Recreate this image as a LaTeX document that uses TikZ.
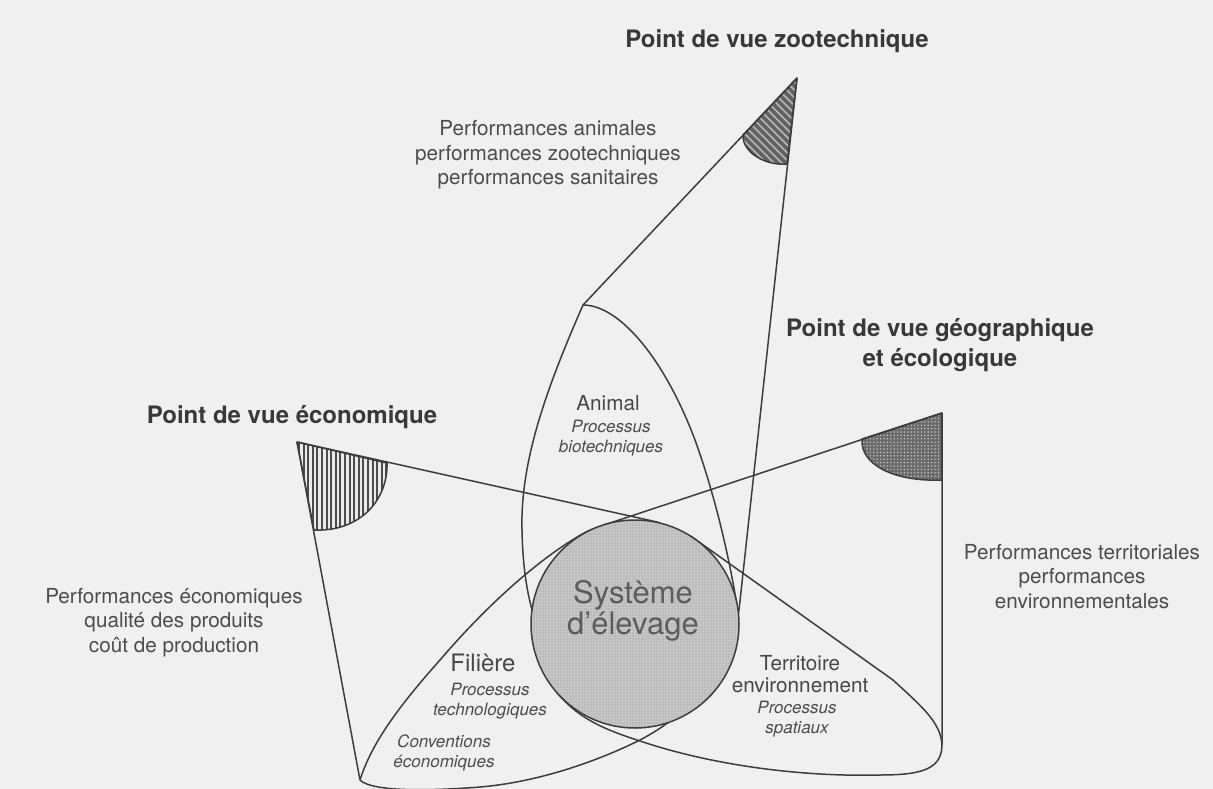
\documentclass[tikz,border=0pt]{standalone}
\usepackage{fontspec}
\setmainfont{TeX Gyre Heros}
\usetikzlibrary{patterns.meta}

\begin{document}
\begin{tikzpicture}[
    x=1pt, y=-1pt,
    line join=round,
    rim/.style    ={draw=black!76, line width=1.5pt},
    zoosec/.style ={rim, preaction={fill=black!62},
                    pattern={Lines[angle=-45,distance=5.5pt,line width=1.6pt]},
                    pattern color=black!28},
    ecosec/.style ={rim, preaction={fill=black!8},
                    pattern={Lines[angle=90,distance=4.6pt,line width=1.9pt]},
                    pattern color=black!70},
    geosec/.style ={rim, preaction={fill=black!58},
                    pattern={Dots[distance=3.4pt,radius=0.8pt]},
                    pattern color=black!22},
    sys/.style    ={circle, rim, minimum size=208pt, inner sep=0pt,
                    preaction={fill=black!22},
                    pattern={Dots[distance=3pt,radius=0.6pt]},
                    pattern color=black!45},
    title/.style  ={font=\fontsize{24}{30}\selectfont\bfseries, text=black!78,
                    inner sep=0pt, align=center},
    perf/.style   ={font=\fontsize{20.7}{24.5}\selectfont, text=black!70,
                    inner sep=0pt, align=center},
    dom/.style    ={font=\fontsize{20.7}{22}\selectfont, text=black!72,
                    inner sep=0pt, align=center},
    proc/.style   ={font=\fontsize{17}{19.5}\selectfont\itshape, text=black!70,
                    inner sep=0pt, align=center},
    systxt/.style ={font=\fontsize{31}{31}\selectfont, text=black!64,
                    inner sep=0pt, align=center},
]
\useasboundingbox (0,0) rectangle (1213,789);
\fill[black!6] (0,0) rectangle (1213,789);

\coordinate (zt)   at (797,78);
\coordinate (et)   at (297,442);
\coordinate (gt)   at (942,413);
\coordinate (fork) at (583,305);
\coordinate (lc)   at (360,780);

\fill[zoosec] (zt) -- (743,135) .. controls (742,152) and (765,166) .. (787,164) -- cycle;
\fill[ecosec] (et) -- (387,463) .. controls (388,500) and (360,532) .. (314,530) -- cycle;
\fill[geosec] (gt) -- (862,439) .. controls (860,465) and (895,482) .. (942,480) -- cycle;

\draw[rim] (zt) -- (fork) .. controls (548,385) and (520,460) .. (522,530)
           .. controls (523,580) and (530,610) .. (545,650);
\draw[rim] (fork) .. controls (620,305) and (665,360) .. (695,440)
           .. controls (715,495) and (730,560) .. (738,612) -- (730,650);
\draw[rim] (zt) -- (739,610) -- (730,650);

\draw[rim] (et) -- (657,522) -- (692,537) -- (893,680)
           .. controls (920,705) and (941,722) .. (942,745);
\draw[rim] (et) -- (lc);

\draw[rim] (gt) -- (604,525) -- (588,531) .. controls (555,548) and (500,590) .. (440,660)
           .. controls (400,705) and (372,742) .. (lc);
\draw[rim] (gt) -- (942,742) .. controls (943,768) and (925,775) .. (880,775)
           .. controls (800,777) and (710,765) .. (637,740)
           .. controls (600,728) and (575,716) .. (555,690) -- (545,670);
\draw[rim] (lc) .. controls (372,792) and (430,791) .. (480,787)
           .. controls (540,782) and (600,760) .. (640,740)
           .. controls (655,732) and (668,724) .. (690,705);

\node[sys] (sys) at (635,624) {};
\node[systxt, anchor=base] (systx) at (633,634) {Système\\d'élevage};

\node[title, anchor=base] (zoohd) at (777,48)  {Point de vue zootechnique};
\node[title, anchor=base] (ecohd) at (292,423) {Point de vue économique};
\node[title, anchor=base] (geohd) at (940,366) {Point de vue géographique\\et écologique};

\node[perf, anchor=base] (zooperf) at (548,185)  {Performances animales\\performances zootechniques\\performances sanitaires};
\node[perf, anchor=base] (ecoperf) at (174,652)  {Performances économiques\\qualité des produits\\coût de production};
\node[perf, anchor=base] (geoperf) at (1082,608) {Performances territoriales\\performances\\environnementales};

\node[dom, anchor=base]  (animal)   at (608,410) {Animal};
\node[proc, anchor=base] (animalp)  at (611,452) {Processus\\biotechniques};
\node[dom, font=\fontsize{24}{26}\selectfont, anchor=base] (filiere) at (483,671) {Filière};
\node[proc, anchor=base] (filierep) at (490,715) {Processus\\technologiques};
\node[proc, anchor=base] (conv)     at (444,767) {Conventions\\économiques};
\node[dom, anchor=base]  (territ)   at (800,692) {Territoire\\environnement};
\node[proc, anchor=base] (territp)  at (797,733) {Processus\\spatiaux};
\end{tikzpicture}
\end{document}
